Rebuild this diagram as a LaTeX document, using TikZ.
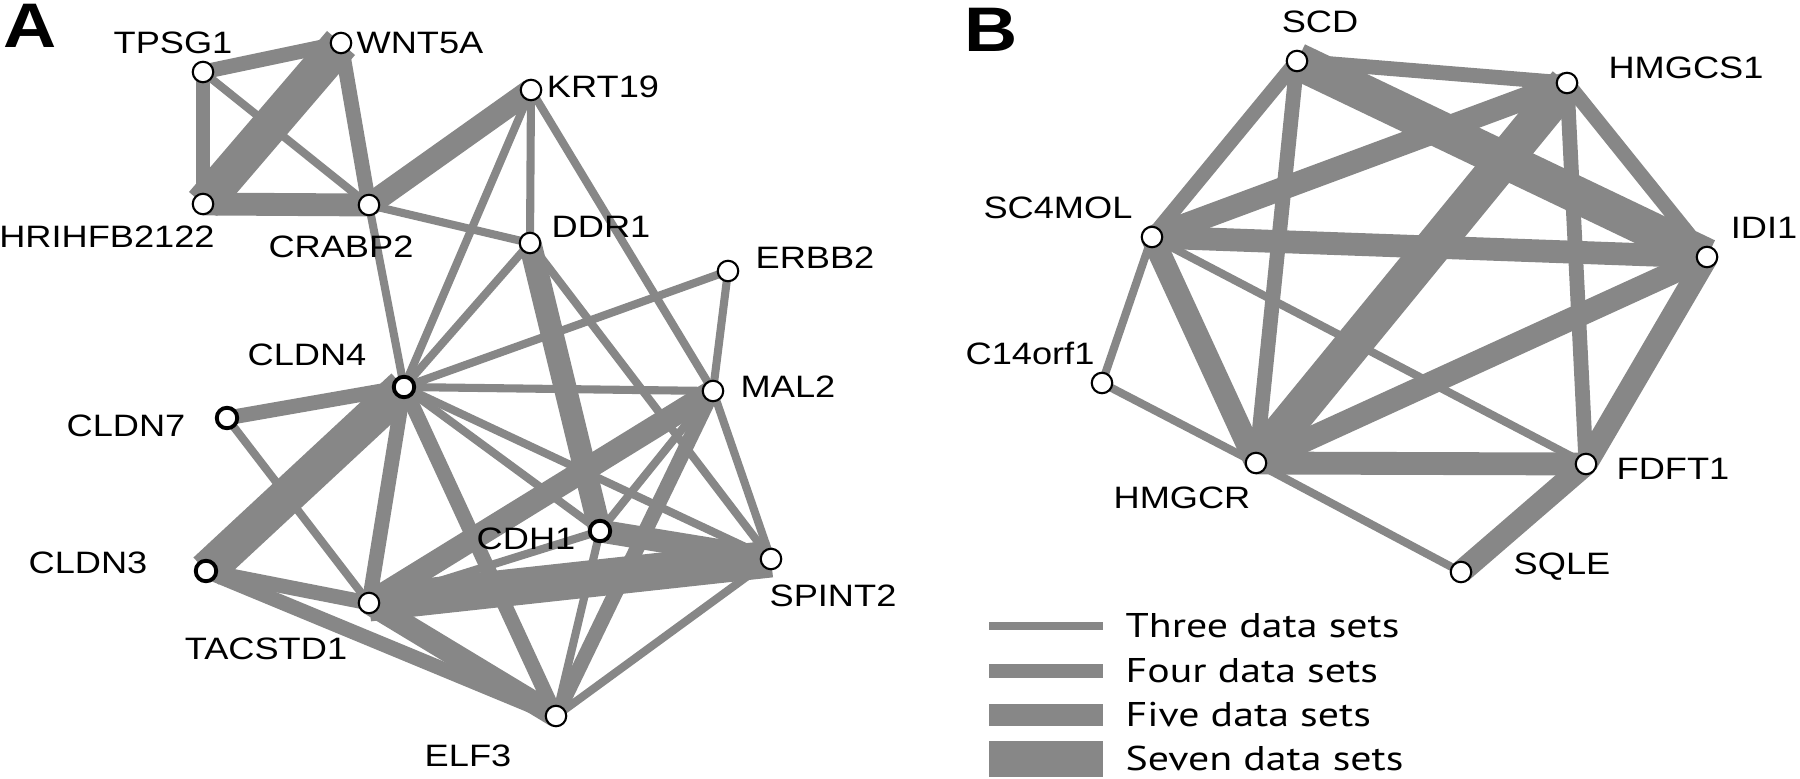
\documentclass[tikz,border=0pt]{standalone}
\usepackage{fontspec}
\setmainfont{Liberation Sans}[FakeStretch=1.17]
\newfontfamily\legfont{PT Sans}[FakeStretch=1.22]
\usetikzlibrary{backgrounds}
\definecolor{edgegray}{RGB}{135,135,135}
\tikzset{
  gene/.style={circle,draw=black,fill=white,line width=0.6pt,minimum size=0.205cm,inner sep=0pt},
  genebold/.style={gene,line width=1.1pt},
  lbl/.style={inner sep=0pt,font=\fontsize{8.8pt}{10pt}\selectfont,text height=6.3pt,text depth=0pt},
  panel/.style={inner sep=0pt,font=\fontsize{17.9pt}{20pt}\selectfont\bfseries,text height=12.8pt,text depth=0pt},
  legtext/.style={inner sep=0pt,anchor=west,font=\legfont\fontsize{9.76pt}{11pt}\selectfont,text height=6.8pt,text depth=0pt},
  edge/.style={draw=edgegray,line cap=butt},
  e3/.style={edge,line width=2.3pt},
  e4/.style={edge,line width=4.2pt},
  e5/.style={edge,line width=6.5pt},
  e7/.style={edge,line width=10.5pt},
}
\begin{document}
\begin{tikzpicture}[x=0.01cm,y=-0.01cm]
\useasboundingbox (0,0) rectangle (1800,779);
% ---------- Panel A nodes ----------
\node[panel] (pA) at (30,25) {A};
\node[gene] (TPSG1) at (203,72) {};
\node[gene] (WNT5A) at (341,43) {};
\node[gene] (KRT19) at (531,90) {};
\node[gene] (HRIHFB) at (203,204) {};
\node[gene] (CRABP2) at (369,205) {};
\node[gene] (DDR1) at (530,243) {};
\node[gene] (ERBB2) at (728,271) {};
\node[genebold] (CLDN4) at (404,387) {};
\node[gene] (MAL2) at (713,391) {};
\node[genebold] (CLDN7) at (227,418) {};
\node[genebold] (CDH1) at (600,531) {};
\node[genebold] (CLDN3) at (206,571) {};
\node[gene] (SPINT2) at (771,559) {};
\node[gene] (TACSTD1) at (369,603) {};
\node[gene] (ELF3) at (556,716) {};
% ---------- Panel B nodes ----------
\node[panel] (pB) at (991,29) {B};
\node[gene] (SCD) at (1297,61) {};
\node[gene] (HMGCS1) at (1567,83) {};
\node[gene] (SC4MOL) at (1152,237) {};
\node[gene] (IDI1) at (1707,257) {};
\node[gene] (C14orf1) at (1102,383) {};
\node[gene] (HMGCR) at (1256,463) {};
\node[gene] (FDFT1) at (1586,464) {};
\node[gene] (SQLE) at (1461,572) {};
% ---------- labels ----------
\node[lbl] (tTPSG1) at (173,42) {TPSG1};
\node[lbl] (tWNT5A) at (420,42) {WNT5A};
\node[lbl] (tKRT19) at (603,86) {KRT19};
\node[lbl] (tHRIHFB) at (107,236) {HRIHFB2122};
\node[lbl] (tCRABP2) at (341,246) {CRABP2};
\node[lbl] (tDDR1) at (601,226) {DDR1};
\node[lbl] (tERBB2) at (815,257) {ERBB2};
\node[lbl] (tCLDN4) at (307,354) {CLDN4};
\node[lbl] (tMAL2) at (788,386) {MAL2};
\node[lbl] (tCLDN7) at (126,425) {CLDN7};
\node[lbl] (tCLDN3) at (88,562) {CLDN3};
\node[lbl] (tCDH1) at (526,538) {CDH1};
\node[lbl] (tTACSTD1) at (266,648) {TACSTD1};
\node[lbl] (tSPINT2) at (833,595) {SPINT2};
\node[lbl] (tELF3) at (468,755) {ELF3};
\node[lbl] (tSCD) at (1320,21) {SCD};
\node[lbl] (tHMGCS1) at (1686,67) {HMGCS1};
\node[lbl] (tSC4MOL) at (1058,207) {SC4MOL};
\node[lbl] (tIDI1) at (1764,227) {IDI1};
\node[lbl] (tC14orf1) at (1030,353) {C14orf1};
\node[lbl] (tHMGCR) at (1182,497) {HMGCR};
\node[lbl] (tFDFT1) at (1673,468) {FDFT1};
\node[lbl] (tSQLE) at (1562,563) {SQLE};
% ---------- legend ----------
\coordinate (l3a) at (989,626); \coordinate (l3b) at (1103,626);
\coordinate (l4a) at (989,671); \coordinate (l4b) at (1103,671);
\coordinate (l5a) at (989,715); \coordinate (l5b) at (1103,715);
\coordinate (l7a) at (989,759); \coordinate (l7b) at (1103,759);
\node[legtext] (t3) at (1125,626) {Three data sets};
\node[legtext] (t4) at (1125,671) {Four data sets};
\node[legtext] (t5) at (1125,715) {Five data sets};
\node[legtext] (t7) at (1125,759) {Seven data sets};
\draw[e3] (l3a) -- (l3b);
\draw[e4] (l4a) -- (l4b);
\draw[e5] (l5a) -- (l5b);
\draw[e7] (l7a) -- (l7b);
% ---------- edges ----------
\begin{pgfonlayer}{background}
% panel A
\foreach \a/\b in {TPSG1/CRABP2, CRABP2/DDR1, CRABP2/CLDN4, KRT19/DDR1, KRT19/CLDN4, KRT19/MAL2,
  DDR1/CLDN4, DDR1/SPINT2, ERBB2/CLDN4, ERBB2/MAL2, CLDN4/MAL2, CLDN4/CDH1, CLDN4/SPINT2,
  MAL2/CDH1, MAL2/SPINT2, CLDN7/TACSTD1, TACSTD1/CDH1, CDH1/ELF3, SPINT2/ELF3}
  \draw[e3] (\a.center) -- (\b.center);
\foreach \a/\b in {TPSG1/WNT5A, TPSG1/HRIHFB, WNT5A/CRABP2, CLDN4/CLDN7, CLDN4/TACSTD1,
  CLDN4/ELF3, MAL2/ELF3, CLDN3/TACSTD1, CLDN3/ELF3}
  \draw[e4] (\a.center) -- (\b.center);
\foreach \a/\b in {HRIHFB/CRABP2, CRABP2/KRT19, DDR1/CDH1, MAL2/TACSTD1, TACSTD1/ELF3, CDH1/SPINT2}
  \draw[e5] (\a.center) -- (\b.center);
\foreach \a/\b in {WNT5A/HRIHFB, CLDN4/CLDN3, TACSTD1/SPINT2}
  \draw[e7] (\a.center) -- (\b.center);
% panel B
\foreach \a/\b in {SC4MOL/C14orf1, SC4MOL/FDFT1, C14orf1/HMGCR, HMGCR/SQLE}
  \draw[e3] (\a.center) -- (\b.center);
\foreach \a/\b in {SCD/HMGCS1, SCD/SC4MOL, SCD/HMGCR, HMGCS1/IDI1, HMGCS1/FDFT1}
  \draw[e4] (\a.center) -- (\b.center);
\foreach \a/\b in {HMGCS1/SC4MOL, SC4MOL/IDI1, SC4MOL/HMGCR, IDI1/HMGCR, IDI1/FDFT1, HMGCR/FDFT1, FDFT1/SQLE}
  \draw[e5] (\a.center) -- (\b.center);
\foreach \a/\b in {SCD/IDI1, HMGCS1/HMGCR}
  \draw[e7] (\a.center) -- (\b.center);
\end{pgfonlayer}
\end{tikzpicture}
\end{document}
